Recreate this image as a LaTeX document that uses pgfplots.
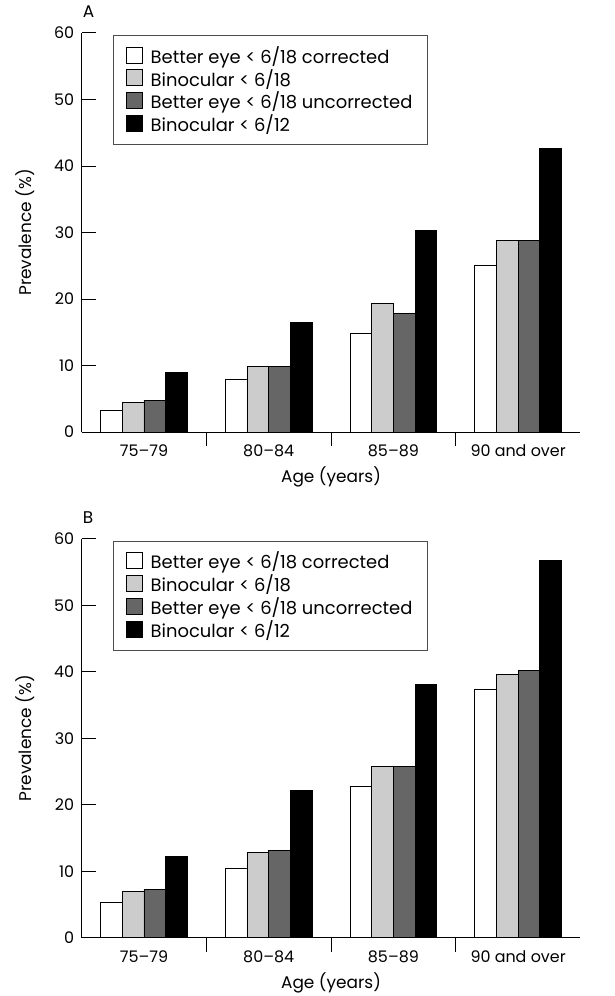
\documentclass[border=0pt]{standalone}
\usepackage{pgfplots}
\pgfplotsset{compat=1.18}
\usepackage{fontspec}
\setmainfont{Poppins}
\definecolor{lgray}{gray}{0.8}
\definecolor{dgray}{gray}{0.4}
\pgfplotsset{
  sw/.style={legend image code/.code={\draw[##1, line width=0.8pt, draw=black] (0pt,-7.5pt) rectangle (16pt,8.5pt); \path (22pt,0pt);}},
  panel/.style={
    scale only axis, width=501pt, height=401pt,
    xmin=0, xmax=4, ymin=0, ymax=60,
    ytick={0,10,...,60},
    xtick={0.5,1.5,2.5,3.5},
    xticklabels={75--79,80--84,85--89,90 and over},
    minor xtick={1,2,3},
    major x tick style={draw=none},
    tick align=inside,
    major tick length=14pt, minor tick length=14pt,
    axis x line*=bottom, axis y line*=left,
    axis line style={line width=0.9pt,-},
    tick style={line width=0.9pt, black},
    ybar=0pt, bar width=21.8pt,
    /pgf/number format/assume math mode=true,
    tick label style={font=\fontsize{16}{19}\selectfont},
    yticklabel style={xshift=-4pt},
    xticklabel style={yshift=5pt},
    xlabel={Age (years)},
    ylabel={Prevalence (\%)},
    every axis x label/.style={at={(axis description cs:0.5,0)}, anchor=north, yshift=-31pt, font=\fontsize{17}{20}\selectfont},
    every axis y label/.style={at={(axis description cs:0,0.5)}, xshift=-57pt, rotate=90, anchor=center, font=\fontsize{17}{20}\selectfont},
    title style={at={(axis description cs:0,1)}, anchor=south west, inner sep=0pt, yshift=9pt, xshift=1pt, font=\fontsize{17}{19}\selectfont},
    legend style={at={(axis description cs:0,1)}, anchor=north west, xshift=31pt, yshift=-2pt,
      draw=black!70, line width=1pt, font=\fontsize{18}{23}\selectfont,
      inner xsep=13pt, inner ysep=9pt, row sep=0.5pt, cells={anchor=west}},
    legend cell align=left,
    every axis plot/.append style={draw=black, line width=0.9pt, sw},
  }
}
\begin{document}
\begin{tikzpicture}
\begin{axis}[panel, at={(0pt,0pt)}, anchor=south west, title={A}]
\addplot[fill=white] coordinates {(0.5,3.3) (1.5,7.9) (2.5,14.8) (3.5,25.0)};
\addplot[fill=lgray] coordinates {(0.5,4.5) (1.5,9.9) (2.5,19.3) (3.5,28.8)};
\addplot[fill=dgray] coordinates {(0.5,4.8) (1.5,9.9) (2.5,17.8) (3.5,28.8)};
\addplot[fill=black] coordinates {(0.5,8.9) (1.5,16.5) (2.5,30.3) (3.5,42.6)};
\legend{Better eye < 6/18 corrected, Binocular < 6/18, Better eye < 6/18 uncorrected, Binocular < 6/12}
\end{axis}
\begin{axis}[panel, at={(0pt,-508pt)}, anchor=south west, title={B}]
\addplot[fill=white] coordinates {(0.5,5.4) (1.5,10.4) (2.5,22.7) (3.5,37.4)};
\addplot[fill=lgray] coordinates {(0.5,7.0) (1.5,12.9) (2.5,25.7) (3.5,39.6)};
\addplot[fill=dgray] coordinates {(0.5,7.3) (1.5,13.2) (2.5,25.7) (3.5,40.2)};
\addplot[fill=black] coordinates {(0.5,12.3) (1.5,22.2) (2.5,38.1) (3.5,56.7)};
\legend{Better eye < 6/18 corrected, Binocular < 6/18, Better eye < 6/18 uncorrected, Binocular < 6/12}
\end{axis}
\path (-82pt,-562pt) rectangle (535pt,434pt);
\end{tikzpicture}
\end{document}
